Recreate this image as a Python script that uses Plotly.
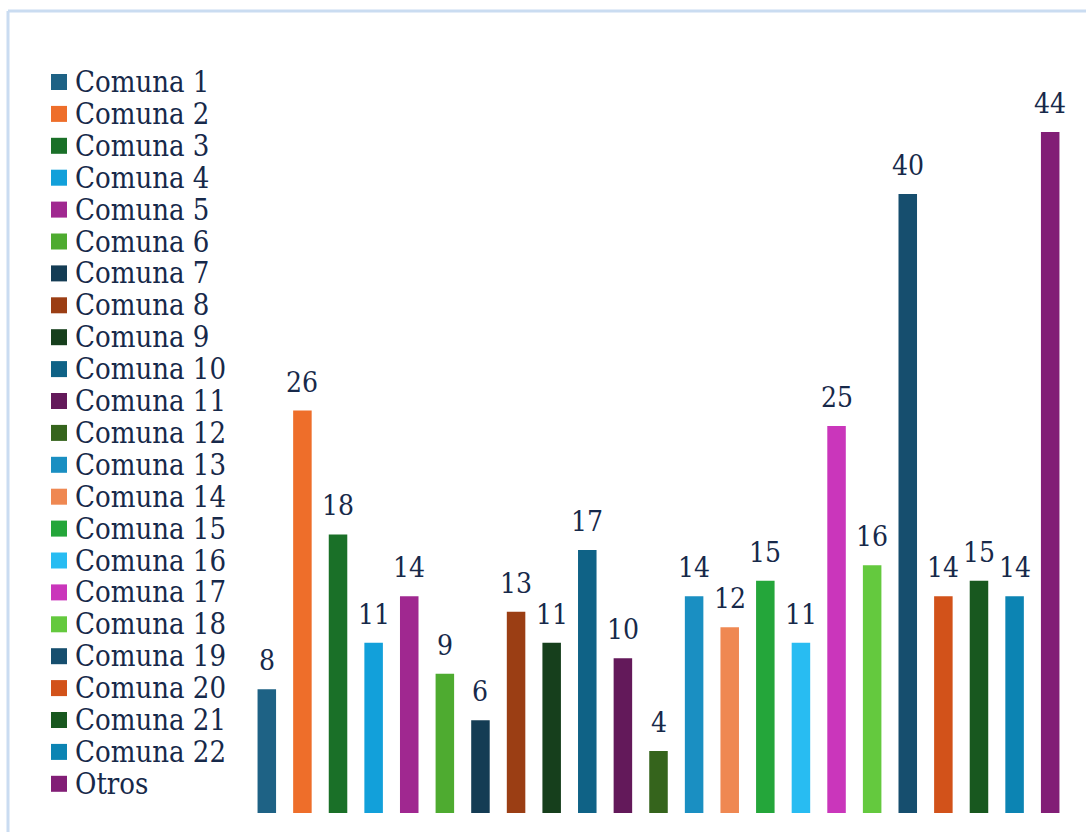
import plotly.graph_objects as go

# Counts per comuna
categories = [f"Comuna {i}" for i in range(1, 23)] + ["Otros"]
values = [8, 26, 18, 11, 14, 9, 6, 13, 11, 17, 10, 4, 14, 12, 15, 11, 25, 16, 40, 14, 15, 14, 44]
colors = [
    "#1e6285", "#ee6e2a", "#1a7028", "#12a0da", "#a02890", "#4eab30",
    "#143c54", "#9b3e14", "#163f1c", "#0f6286", "#63195a", "#35641c",
    "#1a8fc2", "#ef8852", "#24a63a", "#28bcf2", "#ca36bb", "#64c93e",
    "#164e6e", "#d2521a", "#18581f", "#0c84b3", "#821e76",
]

W, H = 1086, 832
ML, MR, MT, MB = 249, 18, 60, 19
PW, PH = W - ML - MR, H - MT - MB
FONT = "DejaVu Serif Condensed"
TXT = "#17294a"


def px_x(px):
    return (px - ML) / PW


def px_y(py):
    return (H - MB - py) / PH


fig = go.Figure()
annotations = []
for i, (name, v, c) in enumerate(zip(categories, values, colors)):
    fig.add_trace(go.Bar(
        x=[i], y=[v], name=name, width=0.52,
        marker=dict(color=c, line=dict(width=0)),
        showlegend=False, hoverinfo="name+y",
    ))
    # value label above each bar
    annotations.append(dict(
        x=i, y=v, xref="x", yref="y", text=str(v),
        xanchor="center", yanchor="bottom", yshift=10, showarrow=False,
        font=dict(family=FONT, size=28, color=TXT),
    ))

# Legend drawn as a column of colour swatches and labels
shapes = []
for k, (name, c) in enumerate(zip(categories, colors)):
    yc = 82 + 31.9 * k
    shapes.append(dict(
        type="rect", xref="paper", yref="paper",
        x0=px_x(51), x1=px_x(67), y0=px_y(yc + 8), y1=px_y(yc - 8),
        fillcolor=c, line=dict(width=0),
    ))
    annotations.append(dict(
        text=name, xref="paper", yref="paper",
        x=px_x(74), y=px_y(yc), xanchor="left", yanchor="middle",
        height=28, valign="middle", borderpad=0,
        showarrow=False, font=dict(family=FONT, size=29, color=TXT),
    ))

# Light frame along the top and left edges
frame = "#cadcf1"
shapes.append(dict(type="line", xref="paper", yref="paper",
                   x0=px_x(8), x1=px_x(W), y0=px_y(11), y1=px_y(11),
                   line=dict(color=frame, width=3)))
shapes.append(dict(type="line", xref="paper", yref="paper",
                   x0=px_x(8), x1=px_x(8), y0=px_y(11), y1=px_y(H),
                   line=dict(color=frame, width=3)))

fig.update_layout(
    width=W, height=H,
    margin=dict(l=ML, r=MR, t=MT, b=MB),
    paper_bgcolor="white", plot_bgcolor="white",
    barmode="overlay",
    xaxis=dict(range=[-0.5, 22.5], visible=False, fixedrange=True),
    yaxis=dict(range=[0, 48.65], visible=False, fixedrange=True),
    shapes=shapes, annotations=annotations,
    font=dict(family=FONT, color=TXT),
)

fig.write_html("out.html", config={"displayModeBar": False})
